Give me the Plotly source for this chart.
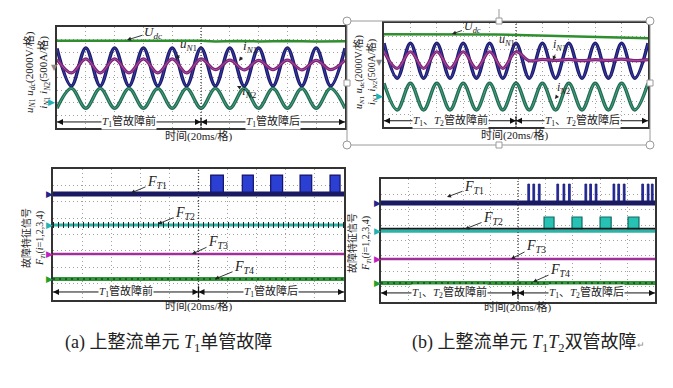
import plotly.graph_objects as go

W, H = 673, 388
OFF = 8  # default page margin of the browser body

# ---------------- data (time in ms, values in oscilloscope divisions) ----------------
T_HALF = [0, 10, 20, 30, 40, 50, 60, 70, 80, 90, 100, 110, 120, 130, 140, 150, 160, 170, 180, 190, 200]
FAULT_MS = 100

# (a) top: single switch fault
UDC_A_T = [0, 100, 110, 125, 140, 160, 180, 200]
UDC_A = [6.92, 6.92, 6.86, 6.90, 6.86, 6.89, 6.86, 6.88]
UN1_A = [6.30, 3.33, 6.34, 3.33, 6.34, 3.33, 6.34, 3.33, 6.34, 3.33, 6.34,
         3.33, 6.34, 3.33, 6.34, 3.33, 6.34, 3.33, 6.34, 3.33, 6.32]
IN1_A = [5.45, 4.36, 5.47, 4.36, 5.47, 4.36, 5.47, 4.36, 5.47, 4.36, 5.47,
         4.62, 5.38, 4.60, 5.36, 4.62, 5.38, 4.60, 5.36, 4.62, 5.38]
IN2_A = [1.56, 3.14, 1.56, 3.14, 1.56, 3.14, 1.56, 3.14, 1.56, 3.14, 1.56,
         3.14, 1.56, 3.14, 1.56, 3.14, 1.56, 3.14, 1.56, 3.14, 1.56]

# (b) top: double switch fault
UDC_B_T = [0, 85, 200]
UDC_B = [7.13, 7.12, 6.82]
UN1_B = [6.44, 3.75, 6.44, 3.75, 6.44, 3.75, 6.44, 3.75, 6.44, 3.75, 6.44,
         3.75, 6.44, 3.75, 6.44, 3.75, 6.44, 3.75, 6.44, 3.75, 6.44]
IN1_B = [5.79, 4.51, 5.79, 4.51, 5.79, 4.51, 5.79, 4.51, 5.79, 4.51, 5.79,
         5.10, 5.20, 5.12, 5.20, 5.10, 5.18, 5.12, 5.22, 5.10, 5.18]
IN2_B = [3.36, 1.31, 3.36, 1.31, 3.36, 1.31, 3.36, 1.31, 3.36, 1.31, 3.36,
         1.31, 3.36, 1.31, 3.36, 1.31, 3.36, 1.31, 3.36, 1.31, 3.36]

# (a) bottom: fault feature signals
T_SPAN = [0, 200]
FT1_A_BASE, FT1_A_HIGH = 6.47, 7.63
FT2_A, FT3_A, FT4_A = 4.58, 2.81, 1.28
FT1_A_START = [108.4, 130.1, 149.6, 169.8, 190.4]
FT1_A_END = [117.1, 137.7, 157.8, 177.8, 197.3]

# (b) bottom
FT1_B_BASE, FT1_B_HIGH = 6.44, 7.67
FT2_B_BASE, FT2_B_HIGH = 4.62, 5.53
FT3_B, FT4_B = 2.80, 1.24
FT1_B_SPIKES = [107.8, 111.5, 115.5, 129.0, 133.5, 137.5, 149.5, 153.0, 157.0,
                170.0, 173.5, 177.5, 191.0, 195.0, 198.0]
FT2_B_START = [119.0, 139.4, 159.9, 180.3]
FT2_B_END = [126.3, 146.7, 168.0, 188.3]

STRIP = {"a1": 0.48, "b1": 0.48, "a2": 0.49, "b2": 0.59}

# ---------------- helpers ----------------
FW, FH = W - OFF, H - OFF

def P(x):
    return (x - OFF) / FW

def Q(y):
    return 1 - (y - OFF) / FH

SERIF = "Liberation Serif, Noto Sans CJK SC, serif"
TXT = dict(family=SERIF, color="#222222")

fig = go.Figure()

def line(x, y, xa, ya, color, width, shape="linear", dash=None):
    fig.add_trace(go.Scatter(x=x, y=y, xaxis=xa, yaxis=ya, mode="lines",
                             line=dict(color=color, width=width, shape=shape, smoothing=1.0,
                                       dash=dash),
                             hoverinfo="skip", showlegend=False))

# ---- (a) top
line(UDC_A_T, UDC_A, "x", "y", "#2f8f2f", 2.5)
line(T_HALF, UN1_A, "x", "y", "#1b1b66", 3.4, "spline")
line(T_HALF, UN1_A, "x", "y", "#3c3cb4", 1.0, "spline")
line(T_HALF, IN1_A, "x", "y", "#7a2476", 3.2, "spline")
line(T_HALF, IN1_A, "x", "y", "#b552ad", 0.9, "spline")
line(T_HALF, IN2_A, "x", "y", "#236b52", 3.4, "spline")
line(T_HALF, IN2_A, "x", "y", "#45a783", 1.0, "spline")

# ---- (b) top
line(UDC_B_T, UDC_B, "x2", "y2", "#2f8f2f", 2.5)
line(T_HALF, UN1_B, "x2", "y2", "#1b1b66", 3.4, "spline")
line(T_HALF, UN1_B, "x2", "y2", "#3c3cb4", 1.0, "spline")
line(T_HALF, IN1_B, "x2", "y2", "#7a2476", 3.2, "spline")
line(T_HALF, IN1_B, "x2", "y2", "#b552ad", 0.9, "spline")
line(T_HALF, IN2_B, "x2", "y2", "#236b52", 3.4, "spline")
line(T_HALF, IN2_B, "x2", "y2", "#45a783", 1.0, "spline")

# ---- (a) bottom
fig.add_trace(go.Bar(
    x=[(s + e) / 2 for s, e in zip(FT1_A_START, FT1_A_END)],
    y=[FT1_A_HIGH - FT1_A_BASE] * len(FT1_A_START),
    base=[FT1_A_BASE] * len(FT1_A_START),
    width=[e - s for s, e in zip(FT1_A_START, FT1_A_END)],
    xaxis="x3", yaxis="y3", marker=dict(color="#2b3fd2", line=dict(color="#12126a", width=1.2)),
    hoverinfo="skip", showlegend=False))
line(T_SPAN, [FT1_A_BASE] * 2, "x3", "y3", "#1a1a62", 5)
line(T_SPAN, [FT2_A] * 2, "x3", "y3", "#2ab3a6", 3)
line(T_SPAN, [FT2_A] * 2, "x3", "y3", "#222222", 6, dash="1px,4px")
line(T_SPAN, [FT3_A] * 2, "x3", "y3", "#a2309a", 2.5)
line(T_SPAN, [FT4_A] * 2, "x3", "y3", "#34963a", 4)
line(T_SPAN, [FT4_A] * 2, "x3", "y3", "#1d5a22", 2, dash="2px,4px")

# ---- (b) bottom
fig.add_trace(go.Bar(
    x=FT1_B_SPIKES, y=[FT1_B_HIGH - FT1_B_BASE] * len(FT1_B_SPIKES),
    base=[FT1_B_BASE] * len(FT1_B_SPIKES), width=[1.3] * len(FT1_B_SPIKES),
    xaxis="x4", yaxis="y4", marker=dict(color="#2431b8", line=dict(color="#12126a", width=0.8)),
    hoverinfo="skip", showlegend=False))
fig.add_trace(go.Bar(
    x=[(s + e) / 2 for s, e in zip(FT2_B_START, FT2_B_END)],
    y=[FT2_B_HIGH - FT2_B_BASE] * len(FT2_B_START),
    base=[FT2_B_BASE] * len(FT2_B_START),
    width=[e - s for s, e in zip(FT2_B_START, FT2_B_END)],
    xaxis="x4", yaxis="y4", marker=dict(color="#27c2b4", line=dict(color="#0e6b63", width=1.2)),
    hoverinfo="skip", showlegend=False))
line(T_SPAN, [FT1_B_BASE] * 2, "x4", "y4", "#1a1a62", 5)
line(T_SPAN, [FT2_B_BASE] * 2, "x4", "y4", "#2ab3a6", 3.5)
line(T_SPAN, [FT2_B_BASE + 0.15] * 2, "x4", "y4", "#1a1a1a", 1.8)
line(T_SPAN, [FT3_B] * 2, "x4", "y4", "#a2309a", 2.5)
line(T_SPAN, [FT4_B] * 2, "x4", "y4", "#34963a", 4)
line(T_SPAN, [FT4_B] * 2, "x4", "y4", "#1d5a22", 2, dash="2px,4px")

# ---------------- axes ----------------
DOMAINS = {
    "a1": ([P(57), P(345)], [Q(128), Q(27)]),
    "b1": ([P(384), P(648)], [Q(127), Q(23)]),
    "a2": ([P(53), P(344)], [Q(300), Q(169)]),
    "b2": ([P(381), P(655)], [Q(302), Q(179)]),
}
KEYS = [("a1", "x", "y"), ("b1", "x2", "y2"), ("a2", "x3", "y3"), ("b2", "x4", "y4")]

layout_axes = {}
for key, xa, ya in KEYS:
    xd, yd = DOMAINS[key]
    common = dict(showticklabels=False, ticks="", zeroline=False, showline=True, mirror=True,
                  linecolor="#333333", linewidth=1.5, showgrid=True, gridcolor="#a0a0a0",
                  gridwidth=1, griddash="1px,3px", fixedrange=True)
    xname = "xaxis" if xa == "x" else "xaxis" + xa[1:]
    yname = "yaxis" if ya == "y" else "yaxis" + ya[1:]
    layout_axes[xname] = dict(domain=xd, range=[0, 200], dtick=20, tick0=0, anchor=ya, **common)
    layout_axes[yname] = dict(domain=yd, range=[0, 8], dtick=1, tick0=0, anchor=xa, **common)

shapes = []
annotations = []

def note(x, y, text, size, **kw):
    d = dict(x=x, y=y, xref="paper", yref="paper", text=text, showarrow=False,
             xanchor="center", yanchor="middle", font=dict(size=size, **TXT))
    d.update(kw)
    annotations.append(d)

for key, xa, ya in KEYS:
    s = STRIP[key]
    # fault instant (centre graticule)
    shapes.append(dict(type="line", xref=xa, yref=ya + " domain", x0=FAULT_MS, x1=FAULT_MS,
                       y0=0, y1=1, line=dict(color="#444444", width=1.3, dash="1px,2px")))
    shapes.append(dict(type="line", xref=xa, yref=ya, x0=FAULT_MS, x1=FAULT_MS,
                       y0=s - 0.35, y1=s + 0.35, line=dict(color="#111111", width=1.2)))
    # strip line with arrow heads
    shapes.append(dict(type="line", xref=xa, yref=ya, x0=0, x1=200, y0=s, y1=s,
                       line=dict(color="#111111", width=1)))
    fig.add_trace(go.Scatter(x=[0, FAULT_MS], y=[s, s], xaxis=xa, yaxis=ya, mode="markers",
                             marker=dict(symbol="arrow-left", size=6, color="#111111"),
                             cliponaxis=False, hoverinfo="skip", showlegend=False))
    fig.add_trace(go.Scatter(x=[FAULT_MS, 200], y=[s, s], xaxis=xa, yaxis=ya, mode="markers",
                             marker=dict(symbol="arrow-right", size=6, color="#111111"),
                             cliponaxis=False, hoverinfo="skip", showlegend=False))

def strip_text(key, xa, ya, label_before, label_after):
    s = STRIP[key]
    for xc, t in [(50, label_before), (150, label_after)]:
        annotations.append(dict(x=xc, y=s, xref=xa, yref=ya, text=t, showarrow=False,
                                xanchor="center", yanchor="middle",
                                bgcolor="white", borderpad=0, font=dict(size=11, **TXT)))

T1 = "<i>T</i><sub>1</sub>"
T2 = "<i>T</i><sub>2</sub>"
strip_text("a1", "x", "y", T1 + "管故障前", T1 + "管故障后")
strip_text("b1", "x2", "y2", T1 + "、" + T2 + "管故障前", T1 + "、" + T2 + "管故障后")
strip_text("a2", "x3", "y3", T1 + "管故障前", T1 + "管故障后")
strip_text("b2", "x4", "y4", T1 + "、" + T2 + "管故障前", T1 + "、" + T2 + "管故障后")

# trace labels with arrows: (text, text_x, text_y, head_x, head_y, size) in pixels
UDC = "<i>U</i><sub><i>dc</i></sub>"
UN1 = "<i>u</i><sub><i>N</i>1</sub>"
IN1 = "<i>i</i><sub><i>N</i>1</sub>"
IN2 = "<i>i</i><sub><i>N</i>2</sub>"
def FT(i):
    return "<i>F</i><sub><i>T</i>%d</sub>" % i

LABELS = [
    (UDC, 153, 32, 127, 40, 13), (UN1, 188, 45, 176, 59, 13), (IN1, 250, 47, 239, 61, 13),
    (IN2, 249, 92, 237, 86, 13),
    (UDC, 472, 27, 452, 34, 12), (UN1, 507, 40, 499, 50, 12), (IN1, 559, 45, 553, 60, 12),
    (IN2, 563, 88, 555, 99, 12),
    (FT(1), 157, 182, 131, 193, 14), (FT(2), 185, 213, 158, 224, 14),
    (FT(3), 218, 242, 192, 254, 14), (FT(4), 244, 267, 215, 279, 14),
    (FT(1), 474, 187, 447, 197, 14), (FT(2), 493, 218, 465, 229, 14),
    (FT(3), 536, 246, 511, 259, 14), (FT(4), 560, 270, 533, 282, 14),
]
for t, tx, ty, hx, hy, fs in LABELS:
    annotations.append(dict(x=P(hx), y=Q(hy), xref="paper", yref="paper", text=t,
                            ax=tx - hx, ay=ty - hy, showarrow=True, arrowhead=2, arrowsize=0.9,
                            arrowwidth=0.9, arrowcolor="#222222", standoff=0, startstandoff=0,
                            font=dict(size=fs, **TXT)))

# axis titles
for cx, cy in [(199, 136), (515, 135), (199, 306), (518, 307)]:
    note(P(cx), Q(cy), "时间(20ms/格)", 11)

YT_TOP = (UN1 + " <i>u</i><sub><i>dc</i></sub>(2000V/格)<br>" + IN1 + " " + IN2 + "(500A/格)")
YT_BOT = "故障特征信号<br><i>F</i><sub><i>Ti</i></sub>(<i>i</i>=1,2,3,4)"
for cx, cy, t, fs in [(37, 72, YT_TOP, 11), (366, 72, YT_TOP, 10),
                      (33, 238, YT_BOT, 10), (359, 243, YT_BOT, 10)]:
    note(P(cx), Q(cy), t, fs, textangle=-90)

# channel markers
MARKERS = [(54, 67, "▼", "#8c8c8c", 8), (52, 102, "▶", "#1fb3b3", 9),
           (380, 62, "▼", "#8c8c8c", 8), (379, 96, "▶", "#1fb3b3", 9),
           (49, 194, "▶", "#24248a", 9), (49, 225, "▶", "#1fb3b3", 9),
           (49, 254, "▶", "#c21fc2", 9), (49, 279, "▶", "#22a022", 9),
           (377, 203, "▶", "#24248a", 9), (377, 231, "▶", "#1fb3b3", 9),
           (377, 259, "▶", "#c21fc2", 9), (377, 283, "▶", "#22a022", 9)]
for mx, my, sym, col, fs in MARKERS:
    annotations.append(dict(x=P(mx), y=Q(my), xref="paper", yref="paper", text=sym,
                            showarrow=False, xanchor="center", yanchor="middle",
                            font=dict(size=fs, color=col, family="DejaVu Sans")))

# captions
note(P(168), Q(343), "(a) 上整流单元 " + T1 + "单管故障", 18)
note(P(528), Q(343), "(b) 上整流单元 " + T1 + T2 + "双管故障"
     + "<span style='font-size:9px;color:#888'>↵</span>", 18)

# word-style selection frame around (b) top panel
GREY = "#9a9a9a"
shapes.append(dict(type="rect", xref="paper", yref="paper", x0=P(347), x1=P(650),
                   y0=Q(145), y1=Q(21), line=dict(color=GREY, width=1)))
shapes.append(dict(type="line", xref="paper", yref="paper", x0=P(499), x1=P(499),
                   y0=Q(9), y1=Q(18), line=dict(color=GREY, width=1)))
for cx, cy in [(347, 21), (650, 21), (347, 145), (650, 145)]:
    shapes.append(dict(type="circle", xref="paper", yref="paper", x0=P(cx - 4), x1=P(cx + 4),
                       y0=Q(cy + 4), y1=Q(cy - 4), fillcolor="white",
                       line=dict(color=GREY, width=1)))
for cx, cy in [(499, 21), (347, 83), (650, 83), (499, 145)]:
    shapes.append(dict(type="rect", xref="paper", yref="paper", x0=P(cx - 3), x1=P(cx + 3),
                       y0=Q(cy + 3), y1=Q(cy - 3), fillcolor="white",
                       line=dict(color=GREY, width=1)))

fig.update_layout(
    width=FW, height=FH, margin=dict(l=0, r=0, t=0, b=0),
    paper_bgcolor="white", plot_bgcolor="white", showlegend=False,
    barmode="overlay", shapes=shapes, annotations=annotations,
    **layout_axes,
)

fig.write_html("out.html")
